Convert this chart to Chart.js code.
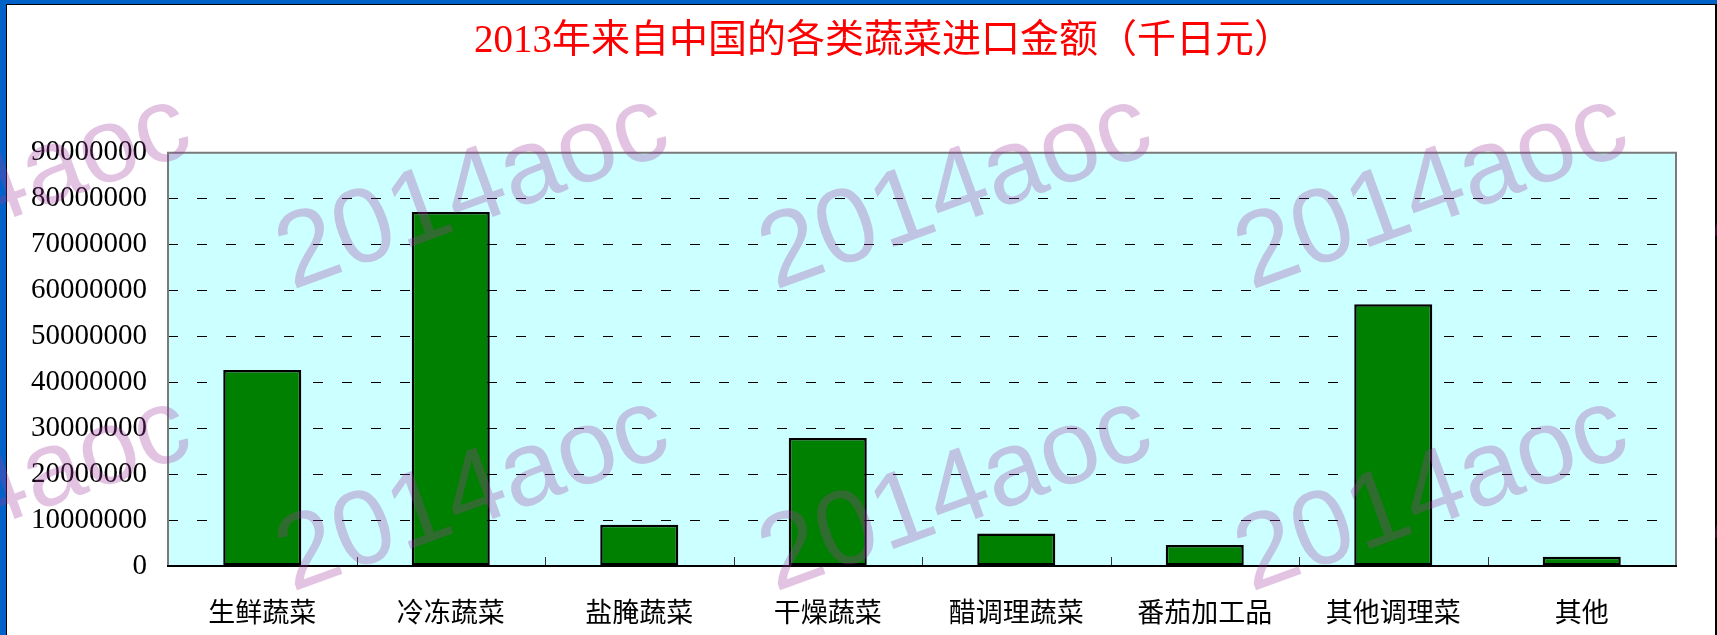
<!DOCTYPE html>
<html>
<head>
<meta charset="utf-8">
<script src="https://cdn.jsdelivr.net/npm/chart.js@4/dist/chart.umd.min.js"></script>
<style>
  html, body { margin: 0; padding: 0; background: #ffffff; }
  #wrap { width: 1717px; height: 635px; position: relative; }
</style>
</head>
<body>
<div id="wrap"><canvas id="graph"></canvas></div>
<script>
// données du graphique
var categories = ['生鲜蔬菜', '冷冻蔬菜', '盐腌蔬菜', '干燥蔬菜', '醋调理蔬菜', '番茄加工品', '其他调理菜', '其他'];
var montants = [42700000, 77100000, 9000000, 27900000, 7100000, 4600000, 57000000, 2000000];
var titre = '2013年来自中国的各类蔬菜进口金额（千日元）';
var filigrane = '2014aoc';

// cadre de la page + fond de la zone du graphique
var fondPlugin = {
    id: 'fond',
    afterLayout: function (chart) {
        // le titre est un peu décalé vers la droite dans l'original
        if (chart.titleBlock) {
            chart.titleBlock.left += 42;
            chart.titleBlock.right += 42;
        }
    },
    beforeDraw: function (chart) {
        var ctx = chart.ctx;
        var a = chart.chartArea;
        ctx.save();
        ctx.fillStyle = '#0062C8';
        ctx.fillRect(0, 0, chart.width, chart.height);
        ctx.fillStyle = '#000000';
        ctx.fillRect(6, 4, 1711, 631);
        ctx.fillStyle = '#ffffff';
        ctx.fillRect(7, 5, 1708, 630);
        ctx.fillStyle = '#CCFFFF';
        ctx.fillRect(a.left, a.top, a.right - a.left, a.bottom - a.top);
        ctx.restore();
    },
    afterDatasetsDraw: function (chart) {
        var ctx = chart.ctx;
        var a = chart.chartArea;
        var x = chart.scales.x;
        ctx.save();
        // bordure grise
        ctx.strokeStyle = '#7a7a7a';
        ctx.lineWidth = 2;
        ctx.beginPath();
        ctx.moveTo(a.left, a.bottom);
        ctx.lineTo(a.left, a.top);
        ctx.lineTo(a.right, a.top);
        ctx.lineTo(a.right, a.bottom);
        ctx.stroke();
        // petites graduations entre les catégories
        ctx.strokeStyle = '#333333';
        ctx.lineWidth = 1;
        for (var i = 1; i < categories.length; i++) {
            var px = Math.round((x.getPixelForValue(i - 1) + x.getPixelForValue(i)) / 2) + 0.5;
            ctx.beginPath();
            ctx.moveTo(px, a.bottom);
            ctx.lineTo(px, a.bottom - 9);
            ctx.stroke();
        }
        // axe des x
        ctx.strokeStyle = '#000000';
        ctx.lineWidth = 2;
        ctx.beginPath();
        ctx.moveTo(a.left - 1, a.bottom);
        ctx.lineTo(a.right + 1, a.bottom);
        ctx.stroke();
        ctx.restore();
    }
};

// filigrane par-dessus tout
var filigranePlugin = {
    id: 'filigrane',
    afterDraw: function (chart) {
        var ctx = chart.ctx;
        var xs = [-5, 473, 956, 1432, 1910];
        var ys = [193, 495];
        ctx.save();
        ctx.font = '106px "Liberation Sans", Arial, sans-serif';
        ctx.fillStyle = 'rgba(160, 60, 160, 0.3)';
        ctx.textAlign = 'center';
        ctx.textBaseline = 'middle';
        ys.forEach(function (y) {
            xs.forEach(function (x) {
                ctx.save();
                ctx.translate(x, y);
                ctx.rotate(-20 * Math.PI / 180);
                ctx.fillText(filigrane, 0, 0);
                ctx.restore();
            });
        });
        ctx.restore();
    }
};

var ctx = document.getElementById('graph').getContext('2d');
var graphique = new Chart(ctx, {
    type: 'bar',
    data: {
        labels: categories,
        datasets: [{
            label: titre,
            data: montants,
            backgroundColor: '#008000',
            borderColor: '#000000',
            borderWidth: 2.5,
            borderSkipped: false,
            categoryPercentage: 1,
            barPercentage: 0.414
        }]
    },
    options: {
        responsive: true,
        maintainAspectRatio: false,
        animation: false,
        layout: {
            padding: { left: 7, right: 41, top: 5, bottom: 0 }
        },
        scales: {
            x: {
                afterFit: function (scale) { scale.height = 69; },
                grid: { display: false, drawTicks: false },
                border: { display: false },
                ticks: {
                    color: '#000000',
                    padding: 30,
                    maxRotation: 0,
                    font: { family: '"Noto Sans CJK SC", sans-serif', size: 27 }
                }
            },
            y: {
                min: 0,
                max: 90000000,
                afterFit: function (scale) { scale.width = 161; },
                grid: { color: '#000000', lineWidth: 1, drawTicks: false },
                border: { display: false, dash: [10, 19] },
                ticks: {
                    stepSize: 10000000,
                    color: '#000000',
                    padding: 21,
                    font: { family: '"Liberation Serif", "Times New Roman", serif', size: 29 },
                    callback: function (v) { return String(v); }
                }
            }
        },
        plugins: {
            legend: { display: false },
            tooltip: { enabled: false },
            title: {
                display: true,
                text: titre,
                color: '#FF0000',
                padding: { top: 13, bottom: 88 },
                font: { family: '"Liberation Serif", "Noto Sans CJK SC", serif', size: 39, weight: 'normal' }
            }
        }
    },
    plugins: [fondPlugin, filigranePlugin]
});
</script>
</body>
</html>
